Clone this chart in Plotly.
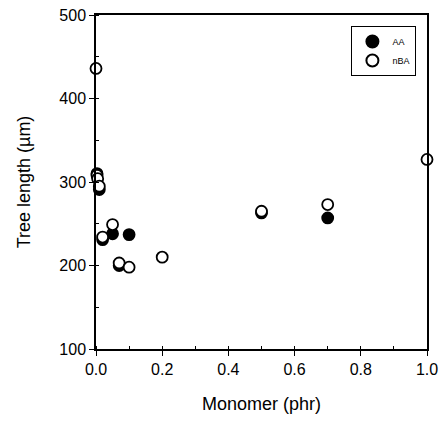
import plotly.graph_objects as go

aa_x = [0.003, 0.01, 0.02, 0.05, 0.07, 0.1, 0.5, 0.7]
aa_y = [310, 291, 231, 238, 200, 237, 263, 257]

nba_x = [0.0, 0.003, 0.005, 0.01, 0.02, 0.05, 0.07, 0.1, 0.2, 0.5, 0.7, 1.0]
nba_y = [436, 308, 304, 295, 234, 249, 203, 198, 210, 265, 273, 327]

x_ticks = [0.0, 0.2, 0.4, 0.6, 0.8, 1.0]
x_tick_text = ["0.0", "0.2", "0.4", "0.6", "0.8", "1.0"]
y_ticks = [100, 200, 300, 400, 500]

fig = go.Figure()
fig.add_trace(go.Scatter(
    x=aa_x, y=aa_y, mode="markers", name="AA",
    marker=dict(symbol="circle", size=11, color="black",
                line=dict(color="black", width=1.8)),
    cliponaxis=False,
))
fig.add_trace(go.Scatter(
    x=nba_x, y=nba_y, mode="markers", name="nBA",
    marker=dict(symbol="circle", size=11, color="white",
                line=dict(color="black", width=1.8)),
    cliponaxis=False,
))

font_family = "Liberation Sans, Arial, sans-serif"

fig.update_layout(
    width=445, height=423,
    margin=dict(l=96, r=18, t=15, b=74),
    paper_bgcolor="white", plot_bgcolor="white",
    font=dict(family=font_family, color="black", size=16),
    showlegend=True,
    legend=dict(
        x=0.968, y=0.967, xanchor="right", yanchor="top",
        bgcolor="white", bordercolor="black", borderwidth=1,
        font=dict(size=9, family=font_family, color="black"),
        itemsizing="constant", tracegroupgap=0,
    ),
    xaxis=dict(
        range=[0, 1.0], tickvals=x_ticks, ticktext=x_tick_text,
        ticks="outside", ticklen=5, tickwidth=1, tickcolor="black",
        showline=True, linecolor="black", linewidth=1.5, mirror=True,
        showgrid=False, zeroline=False,
        tickfont=dict(size=16, color="black"),
        ticklabeloverflow="allow",
        minor=dict(dtick=0.1, ticks="inside", ticklen=3, tickcolor="black", showgrid=False),
        title=dict(text="Monomer (phr)", font=dict(size=18, color="black"), standoff=20),
        automargin=False,
    ),
    yaxis=dict(
        range=[100, 500], tickvals=y_ticks,
        ticks="outside", ticklen=5, tickwidth=1, tickcolor="black",
        showline=True, linecolor="black", linewidth=1.5, mirror=True,
        showgrid=False, zeroline=False,
        tickfont=dict(size=16, color="black"),
        ticklabeloverflow="allow",
        minor=dict(dtick=50, ticks="inside", ticklen=3, tickcolor="black", showgrid=False),
        title=dict(text="Tree length (µm)", font=dict(size=18, color="black"), standoff=24),
        automargin=False,
    ),
)

fig.write_html("out.html", config={"displayModeBar": False},
               post_script="document.body.style.margin='0';")
